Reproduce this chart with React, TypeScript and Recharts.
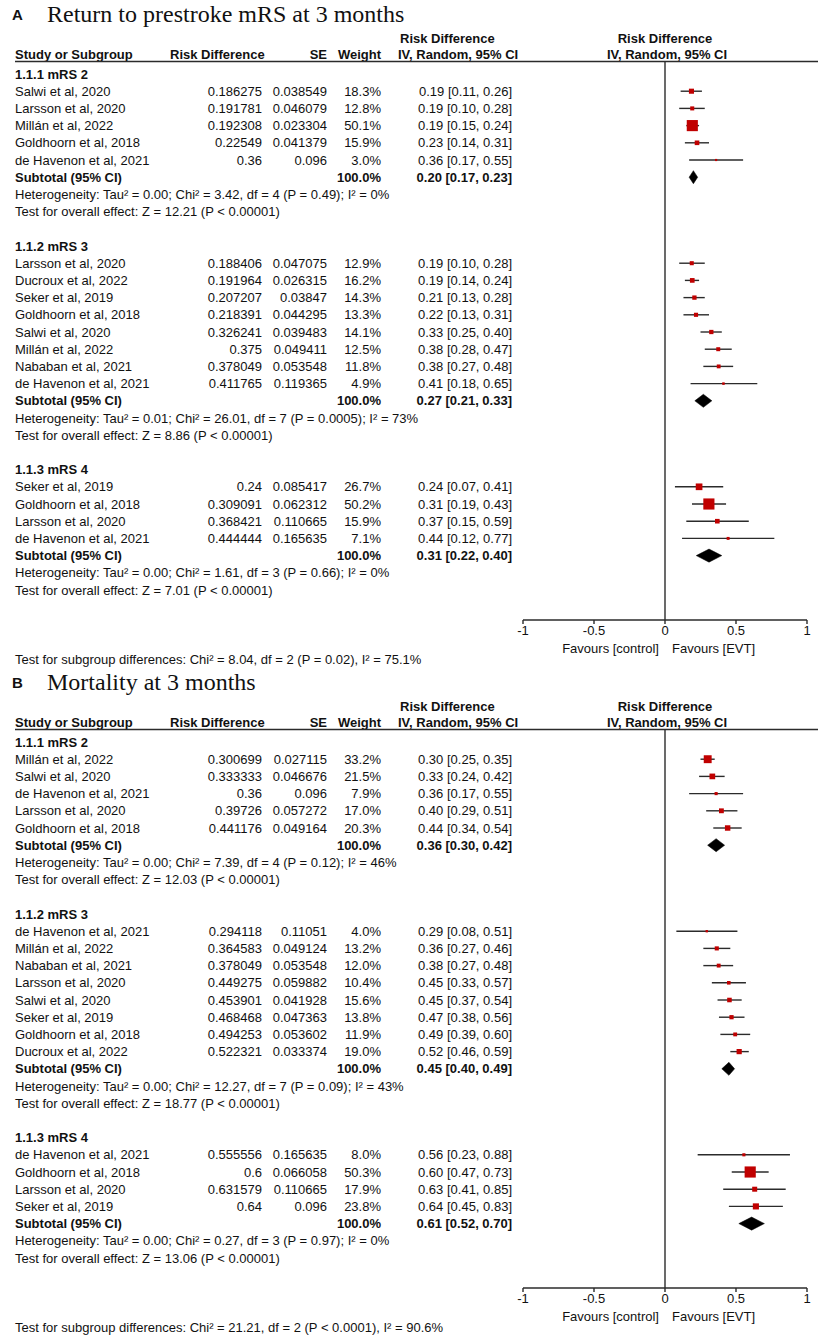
import React from "react"
import {
  ScatterChart,
  Scatter,
  XAxis,
  YAxis,
  ErrorBar,
  ReferenceLine,
  ReferenceArea,
} from "recharts"

const SANS = "'Liberation Sans', Arial, Helvetica, sans-serif"
const SERIF = "'Liberation Serif', 'Times New Roman', serif"
const INK = "#111111"
const LINE = "#2b2b2b"
const RED = "#c00000"

const GROUP_LABELS = ["1.1.1 mRS 2", "1.1.2 mRS 3", "1.1.3 mRS 4"]
const X_TICKS = [-1, -0.5, 0, 0.5, 1]

// Panel A: return to prestroke mRS
const A_TITLE = "Return to prestroke mRS at 3 months"
const A_GROUP = [0, 0, 0, 0, 0, 1, 1, 1, 1, 1, 1, 1, 1, 2, 2, 2, 2]
const A_STUDY = [
  "Salwi et al, 2020", "Larsson et al, 2020", "Millán et al, 2022", "Goldhoorn et al, 2018", "de Havenon et al, 2021",
  "Larsson et al, 2020", "Ducroux et al, 2022", "Seker et al, 2019", "Goldhoorn et al, 2018", "Salwi et al, 2020",
  "Millán et al, 2022", "Nababan et al, 2021", "de Havenon et al, 2021",
  "Seker et al, 2019", "Goldhoorn et al, 2018", "Larsson et al, 2020", "de Havenon et al, 2021",
]
const A_RD = [
  "0.186275", "0.191781", "0.192308", "0.22549", "0.36",
  "0.188406", "0.191964", "0.207207", "0.218391", "0.326241", "0.375", "0.378049", "0.411765",
  "0.24", "0.309091", "0.368421", "0.444444",
]
const A_SE = [
  "0.038549", "0.046079", "0.023304", "0.041379", "0.096",
  "0.047075", "0.026315", "0.03847", "0.044295", "0.039483", "0.049411", "0.053548", "0.119365",
  "0.085417", "0.062312", "0.110665", "0.165635",
]
const A_WEIGHT = [18.3, 12.8, 50.1, 15.9, 3.0, 12.9, 16.2, 14.3, 13.3, 14.1, 12.5, 11.8, 4.9, 26.7, 50.2, 15.9, 7.1]
const A_EST = [0.19, 0.19, 0.19, 0.23, 0.36, 0.19, 0.19, 0.21, 0.22, 0.33, 0.38, 0.38, 0.41, 0.24, 0.31, 0.37, 0.44]
const A_LO = [0.11, 0.1, 0.15, 0.14, 0.17, 0.1, 0.14, 0.13, 0.13, 0.25, 0.28, 0.27, 0.18, 0.07, 0.19, 0.15, 0.12]
const A_HI = [0.26, 0.28, 0.24, 0.31, 0.55, 0.28, 0.24, 0.28, 0.31, 0.4, 0.47, 0.48, 0.65, 0.41, 0.43, 0.59, 0.77]
const A_SUB_EST = [0.2, 0.27, 0.31]
const A_SUB_LO = [0.17, 0.21, 0.22]
const A_SUB_HI = [0.23, 0.33, 0.4]
const A_HET = [
  "Heterogeneity: Tau² = 0.00; Chi² = 3.42, df = 4 (P = 0.49); I² = 0%",
  "Heterogeneity: Tau² = 0.01; Chi² = 26.01, df = 7 (P = 0.0005); I² = 73%",
  "Heterogeneity: Tau² = 0.00; Chi² = 1.61, df = 3 (P = 0.66); I² = 0%",
]
const A_Z = [
  "Test for overall effect: Z = 12.21 (P < 0.00001)",
  "Test for overall effect: Z = 8.86 (P < 0.00001)",
  "Test for overall effect: Z = 7.01 (P < 0.00001)",
]
const A_SUBGROUPS = "Test for subgroup differences: Chi² = 8.04, df = 2 (P = 0.02), I² = 75.1%"

// Panel B: mortality
const B_TITLE = "Mortality at 3 months"
const B_GROUP = [0, 0, 0, 0, 0, 1, 1, 1, 1, 1, 1, 1, 1, 2, 2, 2, 2]
const B_STUDY = [
  "Millán et al, 2022", "Salwi et al, 2020", "de Havenon et al, 2021", "Larsson et al, 2020", "Goldhoorn et al, 2018",
  "de Havenon et al, 2021", "Millán et al, 2022", "Nababan et al, 2021", "Larsson et al, 2020", "Salwi et al, 2020",
  "Seker et al, 2019", "Goldhoorn et al, 2018", "Ducroux et al, 2022",
  "de Havenon et al, 2021", "Goldhoorn et al, 2018", "Larsson et al, 2020", "Seker et al, 2019",
]
const B_RD = [
  "0.300699", "0.333333", "0.36", "0.39726", "0.441176",
  "0.294118", "0.364583", "0.378049", "0.449275", "0.453901", "0.468468", "0.494253", "0.522321",
  "0.555556", "0.6", "0.631579", "0.64",
]
const B_SE = [
  "0.027115", "0.046676", "0.096", "0.057272", "0.049164",
  "0.11051", "0.049124", "0.053548", "0.059882", "0.041928", "0.047363", "0.053602", "0.033374",
  "0.165635", "0.066058", "0.110665", "0.096",
]
const B_WEIGHT = [33.2, 21.5, 7.9, 17.0, 20.3, 4.0, 13.2, 12.0, 10.4, 15.6, 13.8, 11.9, 19.0, 8.0, 50.3, 17.9, 23.8]
const B_EST = [0.3, 0.33, 0.36, 0.4, 0.44, 0.29, 0.36, 0.38, 0.45, 0.45, 0.47, 0.49, 0.52, 0.56, 0.6, 0.63, 0.64]
const B_LO = [0.25, 0.24, 0.17, 0.29, 0.34, 0.08, 0.27, 0.27, 0.33, 0.37, 0.38, 0.39, 0.46, 0.23, 0.47, 0.41, 0.45]
const B_HI = [0.35, 0.42, 0.55, 0.51, 0.54, 0.51, 0.46, 0.48, 0.57, 0.54, 0.56, 0.6, 0.59, 0.88, 0.73, 0.85, 0.83]
const B_SUB_EST = [0.36, 0.45, 0.61]
const B_SUB_LO = [0.3, 0.4, 0.52]
const B_SUB_HI = [0.42, 0.49, 0.7]
const B_HET = [
  "Heterogeneity: Tau² = 0.00; Chi² = 7.39, df = 4 (P = 0.12); I² = 46%",
  "Heterogeneity: Tau² = 0.00; Chi² = 12.27, df = 7 (P = 0.09); I² = 43%",
  "Heterogeneity: Tau² = 0.00; Chi² = 0.27, df = 3 (P = 0.97); I² = 0%",
]
const B_Z = [
  "Test for overall effect: Z = 12.03 (P < 0.00001)",
  "Test for overall effect: Z = 18.77 (P < 0.00001)",
  "Test for overall effect: Z = 13.06 (P < 0.00001)",
]
const B_SUBGROUPS = "Test for subgroup differences: Chi² = 21.21, df = 2 (P < 0.0001), I² = 90.6%"

const PANEL_W = 822
const PANEL_H = 668
const PLOT_TOP = 61
const PLOT_BOTTOM = 620
const ROW_MIN = -0.756
const ROW_MAX = 31.744

interface PanelProps {
  letter: string
  title: string
  group: number[]
  study: string[]
  rd: string[]
  se: string[]
  weight: number[]
  est: number[]
  lo: number[]
  hi: number[]
  subEst: number[]
  subLo: number[]
  subHi: number[]
  het: string[]
  z: string[]
  subgroups: string
}

const ci = (e: number, l: number, h: number) => `${e.toFixed(2)} [${l.toFixed(2)}, ${h.toFixed(2)}]`

function buildRows(p: PanelProps) {
  const rows: any[] = []
  let r = 0
  GROUP_LABELS.forEach((label, g) => {
    rows.push({ x: 0, y: r++, kind: "group", text: label })
    p.group.forEach((gi, i) => {
      if (gi !== g) return
      const x = Number(p.rd[i])
      rows.push({
        x, y: r++, kind: "study",
        name: p.study[i], rd: p.rd[i], se: p.se[i], weight: p.weight[i],
        ciText: ci(p.est[i], p.lo[i], p.hi[i]),
        err: [x - p.lo[i], p.hi[i] - x],
      })
    })
    rows.push({
      x: p.subEst[g], y: r++, kind: "subtotal",
      est: p.subEst[g], lo: p.subLo[g], hi: p.subHi[g],
      ciText: ci(p.subEst[g], p.subLo[g], p.subHi[g]),
    })
    rows.push({ x: 0, y: r++, kind: "note", text: p.het[g] })
    rows.push({ x: 0, y: r++, kind: "note", text: p.z[g] })
    r++
  })
  return rows
}

const txt = { fontFamily: SANS, fontSize: 13, fill: INK }

const renderRowText = (props: any) => {
  const d = props.payload ?? props
  const cy = props.cy
  if (cy == null) return <g />
  if (d.kind === "group") {
    return <text x={15} y={cy} dy="0.35em" {...txt} fontWeight="bold">{d.text}</text>
  }
  if (d.kind === "note") {
    return <text x={15} y={cy} dy="0.35em" {...txt}>{d.text}</text>
  }
  if (d.kind === "subtotal") {
    return (
      <g>
        <text x={15} y={cy} dy="0.35em" {...txt} fontWeight="bold">Subtotal (95% CI)</text>
        <text x={381} y={cy} dy="0.35em" {...txt} fontWeight="bold" textAnchor="end">100.0%</text>
        <text x={512} y={cy} dy="0.35em" {...txt} fontWeight="bold" textAnchor="end">{d.ciText}</text>
      </g>
    )
  }
  return (
    <g>
      <text x={15} y={cy} dy="0.35em" {...txt}>{d.name}</text>
      <text x={262} y={cy} dy="0.35em" {...txt} textAnchor="end">{d.rd}</text>
      <text x={327} y={cy} dy="0.35em" {...txt} textAnchor="end">{d.se}</text>
      <text x={381} y={cy} dy="0.35em" {...txt} textAnchor="end">{d.weight.toFixed(1)}%</text>
      <text x={512} y={cy} dy="0.35em" {...txt} textAnchor="end">{d.ciText}</text>
    </g>
  )
}

// square side grows with the study weight
const renderSquare = (props: any) => {
  const { cx, cy } = props
  const d = props.payload ?? props
  const s = 1.6 + 0.19 * d.weight
  return <rect x={cx - s / 2} y={cy - s / 2} width={s} height={s} fill={RED} />
}

const diamondShape = (frac: number) => (props: any) => {
  const { x, y, width, height } = props
  const mid = y + height / 2
  const tip = x + width * frac
  const pts = `${x},${mid} ${tip},${y} ${x + width},${mid} ${tip},${y + height}`
  return <polygon points={pts} fill="#000" stroke="#000" strokeWidth={0.5} />
}

const renderFavours = (props: any) => {
  const vb = props.viewBox
  if (!vb) return null
  const c = vb.x + vb.width / 2
  const y = vb.y + 33
  return (
    <g>
      <text x={c - 6} y={y} {...txt} textAnchor="end">Favours [control]</text>
      <text x={c + 7} y={y} {...txt}>Favours [EVT]</text>
    </g>
  )
}

function ForestPanel(p: PanelProps) {
  const rows = buildRows(p)
  const studies = rows.filter((r) => r.kind === "study")
  const subtotals = rows.filter((r) => r.kind === "subtotal")

  return (
    <div style={{ position: "relative", width: PANEL_W, height: PANEL_H }}>
      <ScatterChart
        width={PANEL_W}
        height={PANEL_H}
        margin={{ top: PLOT_TOP, right: 15, bottom: PANEL_H - PLOT_BOTTOM - 30, left: 523 }}
      >
        <XAxis
          type="number"
          dataKey="x"
          domain={[-1, 1]}
          ticks={X_TICKS}
          interval={0}
          height={30}
          tickSize={4}
          axisLine={{ stroke: LINE, strokeWidth: 1.4 }}
          tickLine={{ stroke: LINE, strokeWidth: 1.4 }}
          tick={{ fill: INK, fontSize: 13, fontFamily: SANS }}
          label={{ content: renderFavours }}
        />
        <YAxis type="number" dataKey="y" domain={[ROW_MIN, ROW_MAX]} reversed hide />
        <ReferenceLine x={0} stroke={LINE} strokeWidth={1.4} />
        {subtotals.map((s, i) => (
          <ReferenceArea
            key={i}
            x1={s.lo}
            x2={s.hi}
            y1={s.y - 0.38}
            y2={s.y + 0.38}
            shape={diamondShape((s.est - s.lo) / (s.hi - s.lo))}
          />
        ))}
        <Scatter data={studies} shape={renderSquare} isAnimationActive={false}>
          <ErrorBar dataKey="err" direction="x" width={0} stroke={LINE} strokeWidth={1.4} />
        </Scatter>
        <Scatter data={rows} shape={renderRowText} isAnimationActive={false} />
      </ScatterChart>

      <svg
        width={PANEL_W}
        height={PANEL_H}
        style={{ position: "absolute", left: 0, top: 0, pointerEvents: "none", overflow: "visible" }}
      >
        <text x={12} y={20} fontFamily={SANS} fontSize={15} fontWeight="bold" fill={INK}>{p.letter}</text>
        <text x={47} y={21.5} fontFamily={SERIF} fontSize={24} fill={INK}>{p.title}</text>

        <text x={400} y={43} {...txt} fontWeight="bold">Risk Difference</text>
        <text x={665} y={43} {...txt} fontWeight="bold" textAnchor="middle">Risk Difference</text>

        <text x={15} y={59} {...txt} fontWeight="bold">Study or Subgroup</text>
        <text x={170} y={59} {...txt} fontWeight="bold">Risk Difference</text>
        <text x={327} y={59} {...txt} fontWeight="bold" textAnchor="end">SE</text>
        <text x={381} y={59} {...txt} fontWeight="bold" textAnchor="end">Weight</text>
        <text x={398} y={59} {...txt} fontWeight="bold">IV, Random, 95% CI</text>
        <text x={667} y={59} {...txt} fontWeight="bold" textAnchor="middle">IV, Random, 95% CI</text>
        <line x1={15} x2={818} y1={61.5} y2={61.5} stroke={LINE} strokeWidth={1.4} />

        <text x={15} y={664} {...txt}>{p.subgroups}</text>
      </svg>
    </div>
  )
}

export default function App() {
  return (
    <div style={{ position: "absolute", left: 0, top: 0, width: 822, height: 1339, background: "#fff" }}>
      <ForestPanel
        letter="A" title={A_TITLE} group={A_GROUP} study={A_STUDY} rd={A_RD} se={A_SE}
        weight={A_WEIGHT} est={A_EST} lo={A_LO} hi={A_HI}
        subEst={A_SUB_EST} subLo={A_SUB_LO} subHi={A_SUB_HI}
        het={A_HET} z={A_Z} subgroups={A_SUBGROUPS}
      />
      <ForestPanel
        letter="B" title={B_TITLE} group={B_GROUP} study={B_STUDY} rd={B_RD} se={B_SE}
        weight={B_WEIGHT} est={B_EST} lo={B_LO} hi={B_HI}
        subEst={B_SUB_EST} subLo={B_SUB_LO} subHi={B_SUB_HI}
        het={B_HET} z={B_Z} subgroups={B_SUBGROUPS}
      />
    </div>
  )
}
